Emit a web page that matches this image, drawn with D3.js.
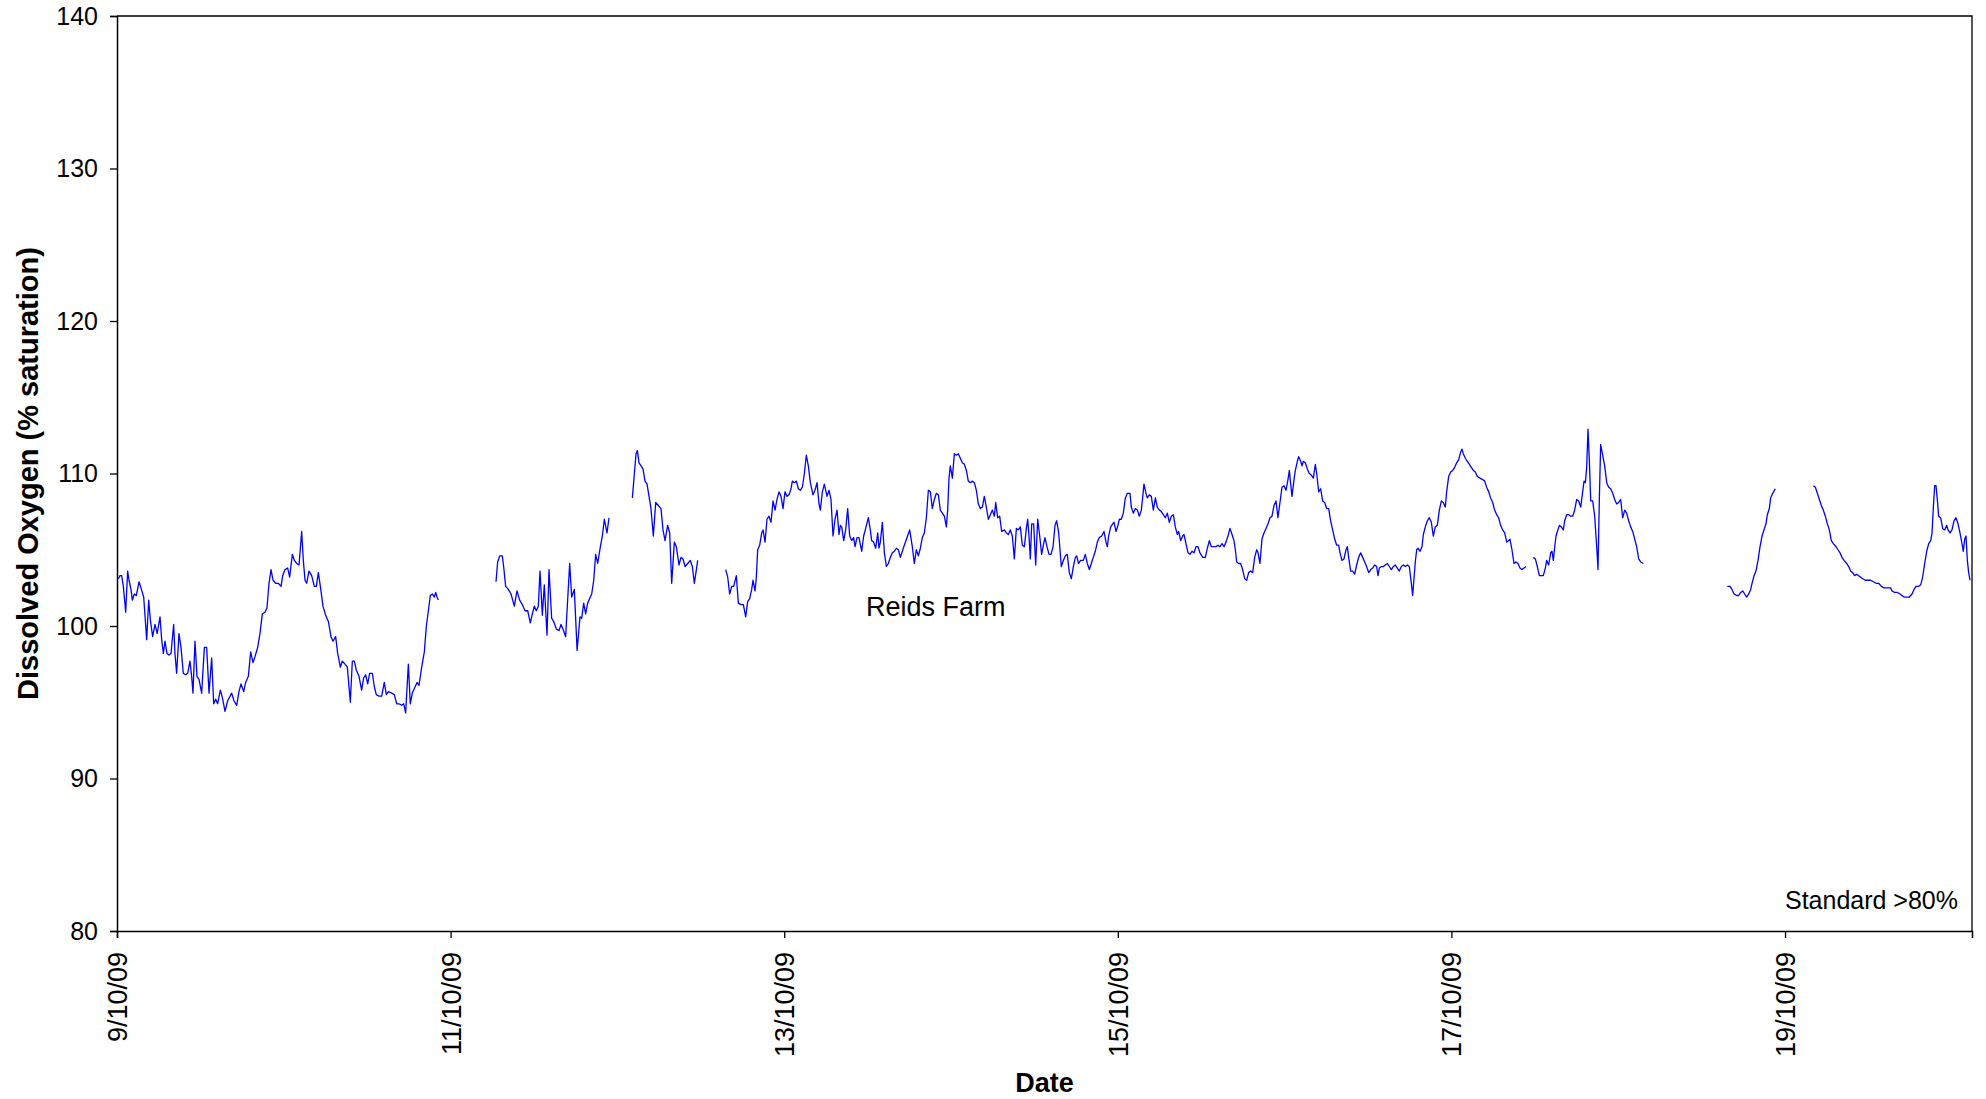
<!DOCTYPE html>
<html>
<head>
<meta charset="utf-8">
<script src="https://cdn.jsdelivr.net/npm/d3@7"></script>
<style>
  html, body { margin: 0; padding: 0; background: #fff; }
  svg { display: block; font-family: "Liberation Sans", Arial, sans-serif; }
</style>
</head>
<body>
<svg id="chart" width="1986" height="1099"></svg>
<script>
// ---- Data (hours after 9/10/09 00:00, % saturation) ----
const startDate = new Date(2009, 9, 9, 0, 0);
const endHours = 266.9;

const yTicks = [80, 90, 100, 110, 120, 130, 140];
const xTickDays = [0, 2, 4, 6, 8, 10];
const xTickLabels = ["9/10/09", "11/10/09", "13/10/09", "15/10/09", "17/10/09", "19/10/09"];

const segA = [[0.2,103.1],[0.43,103.3],[0.67,103.3],[0.91,102.6],[1.25,100.9],[1.53,103.6],[1.73,103.0],[2.01,102.4],[2.21,101.7],[2.49,102.1],[2.78,102.0],[3.17,102.9],[3.45,102.5],[3.84,101.9],[4.27,99.1],[4.56,101.7],[4.8,100.4],[5.13,99.3],[5.47,100.1],[5.78,99.5],[6.19,100.6],[6.43,99.1],[6.67,98.2],[6.91,99.0],[7.19,98.2],[7.48,98.1],[7.77,98.2],[8.15,100.1],[8.34,98.2],[8.58,96.9],[8.92,99.5],[9.21,98.6],[9.54,96.9],[9.88,96.8],[10.17,96.9],[10.5,97.7],[10.74,96.7],[10.93,95.6],[11.22,99.0],[11.51,96.7],[11.8,96.5],[12.18,95.6],[12.57,98.6],[12.9,98.6],[13.24,95.6],[13.62,97.9],[13.91,94.9],[14.2,95.2],[14.48,94.9],[14.87,95.8],[15.16,95.3],[15.54,94.4],[15.92,95.1],[16.5,95.6],[16.83,95.1],[17.22,94.8],[17.55,95.7],[17.84,96.2],[18.23,95.7],[18.51,96.3],[18.9,96.7],[19.23,98.3],[19.57,97.6],[19.86,98.0],[20.24,98.6],[20.57,99.5],[20.91,100.8],[21.29,100.9],[21.58,101.2],[21.87,102.8],[22.16,103.7],[22.45,103.0],[22.83,102.8],[23.21,102.8],[23.6,102.6],[23.84,103.3],[24.17,103.7],[24.56,103.8],[24.84,103.2],[25.23,104.7],[25.52,104.3],[25.85,104.1],[26.19,104.0],[26.57,106.2],[26.81,104.3],[27.05,103.0],[27.29,102.8],[27.62,103.6],[28.01,103.3],[28.39,102.6],[28.68,102.6],[28.97,103.5],[29.26,102.6],[29.64,101.3],[30.02,100.7],[30.41,100.3],[30.79,99.3],[31.08,99.0],[31.46,99.3],[31.75,98.2],[32.13,97.3],[32.42,97.7],[32.8,97.5],[33.14,97.3],[33.57,95.0],[33.86,97.7],[34.15,97.7],[34.44,97.1],[34.82,96.7],[35.2,95.8],[35.49,96.6],[35.78,96.8],[36.07,96.2],[36.35,96.9],[36.74,96.9],[37.03,96.0],[37.31,95.5],[37.7,95.4],[38.08,95.4],[38.46,96.3],[38.75,95.5],[39.04,95.7],[39.52,95.6],[39.9,95.5],[40.24,94.9],[40.57,94.9],[40.96,94.8],[41.25,94.9],[41.53,94.3],[41.92,97.5],[42.2,94.9],[42.49,95.6],[42.88,96.0],[43.17,96.3],[43.45,96.1],[43.84,97.3],[44.22,98.3],[44.51,100.0],[44.8,101.0],[45.08,102.0],[45.37,102.1],[45.66,101.9],[45.85,102.2],[46.04,101.9],[46.23,101.7]];

const segB = [[54.53,102.9],[54.77,104.2],[55.06,104.6],[55.44,104.6],[55.63,103.9],[55.92,102.6],[56.31,102.4],[56.69,102.1],[57.17,101.3],[57.55,102.3],[57.94,101.7],[58.32,101.4],[58.7,101.0],[59.09,101.0],[59.47,100.2],[59.76,100.8],[60.05,101.3],[60.33,101.0],[60.62,101.3],[60.86,103.6],[61.2,100.7],[61.48,102.7],[61.87,99.4],[62.16,103.7],[62.54,100.5],[62.83,100.3],[63.21,99.8],[63.6,99.7],[63.88,100.1],[64.17,99.8],[64.55,99.3],[64.84,101.7],[65.13,104.1],[65.42,101.9],[65.8,102.4],[66.2,98.4],[66.62,100.6],[66.86,100.5],[67.15,101.5],[67.43,100.8],[67.72,101.5],[68.01,101.8],[68.3,102.1],[68.59,103.0],[68.87,104.7],[69.16,104.1],[69.55,105.2],[69.83,105.9],[70.12,107.0],[70.5,106.1],[70.79,107.1]];

const segC = [[74.15,108.4],[74.44,110.0],[74.68,111.3],[74.87,111.5],[75.11,110.7],[75.4,110.5],[75.68,110.3],[75.97,109.5],[76.26,109.3],[76.55,108.5],[76.83,107.7],[77.17,105.9],[77.51,108.1],[77.89,107.9],[78.27,107.7],[78.56,106.3],[78.85,105.6],[79.23,106.6],[79.52,106.1],[79.81,102.8],[80.19,105.5],[80.48,105.2],[80.86,104.0],[81.15,104.5],[81.44,104.4],[81.73,103.9],[82.11,104.1],[82.49,104.3],[82.78,103.9],[83.07,102.8],[83.36,103.7],[83.55,104.3]];

const segD = [[87.58,103.7],[87.87,103.2],[88.15,102.1],[88.44,102.6],[88.73,102.6],[89.11,103.3],[89.4,101.5],[89.78,101.4],[90.12,101.4],[90.46,100.6],[90.74,101.6],[91.03,101.8],[91.32,102.4],[91.51,103.0],[91.8,102.3],[91.99,103.2],[92.18,105.0],[92.47,105.3],[92.76,106.1],[92.95,106.3],[93.24,105.5],[93.52,107.0],[93.81,107.2],[94.1,106.8],[94.39,108.2],[94.68,107.6],[94.96,108.3],[95.25,108.8],[95.54,108.5],[95.83,107.7],[96.11,108.8],[96.4,108.5],[96.69,108.6],[96.98,109.0],[97.17,109.5],[97.46,109.4],[97.75,109.5],[98.03,109.0],[98.32,108.9],[98.61,109.1],[98.9,110.0],[99.18,111.2],[99.47,110.5],[99.76,109.4],[100.14,108.6],[100.43,108.9],[100.72,109.4],[101.01,108.0],[101.2,107.6],[101.49,108.8],[101.77,109.3],[101.97,108.9],[102.16,108.5],[102.45,108.9],[102.73,108.3],[103.02,105.9],[103.31,107.0],[103.6,107.6],[103.88,106.0],[104.08,106.6],[104.27,106.5],[104.56,105.6],[104.84,106.3],[105.13,107.7],[105.42,105.9],[105.71,105.6],[105.99,105.8],[106.19,105.2],[106.47,105.8],[106.76,105.8],[107.15,104.9],[107.43,105.9],[107.72,106.4],[108.1,107.1],[108.39,106.3],[108.58,105.6],[108.87,105.5],[109.16,105.1],[109.45,106.1],[109.64,105.1],[109.83,105.5],[110.12,106.8],[110.41,104.8],[110.7,103.9],[110.98,104.1],[111.27,104.5],[111.56,104.8],[111.85,104.9],[112.13,105.1],[112.42,105.0],[112.71,104.5],[113.0,104.9],[113.28,105.3],[113.67,105.8],[114.05,106.3],[114.43,105.2],[114.72,104.1],[115.01,105.0],[115.3,104.6],[115.59,105.1],[115.87,105.8],[116.16,106.1],[116.45,107.1],[116.74,108.9],[117.03,108.8],[117.31,107.7],[117.6,108.3],[117.89,108.7],[118.18,108.6],[118.46,107.6],[118.75,107.4],[119.04,107.2],[119.33,106.5],[119.52,107.6],[119.71,109.7],[119.9,110.5],[120.19,109.7],[120.48,111.3],[120.77,111.2],[121.05,111.3],[121.34,111.0],[121.63,110.7],[121.92,110.6],[122.21,110.2],[122.49,109.5],[122.78,109.4],[123.07,109.5],[123.36,109.4],[123.64,108.9],[123.93,108.0],[124.22,107.7],[124.51,107.8],[124.79,108.5],[125.08,107.8],[125.37,107.0],[125.66,107.3],[125.95,107.6],[126.23,107.2],[126.43,108.1],[126.71,107.1],[127.0,107.2],[127.29,106.2],[127.67,106.3],[127.96,106.1],[128.25,106.0],[128.53,106.3],[128.82,105.9],[129.11,104.4],[129.4,106.4],[129.69,106.3],[129.97,106.5],[130.26,105.3],[130.55,105.2],[130.84,106.4],[131.03,107.0],[131.22,105.9],[131.41,104.4],[131.61,106.7],[131.89,106.7],[132.18,104.0],[132.47,107.0],[132.76,105.9],[133.04,104.7],[133.33,105.4],[133.52,105.8],[133.81,105.2],[134.1,104.7],[134.39,104.7],[134.68,105.2],[134.96,106.6],[135.2,106.9],[135.49,106.1],[135.87,103.9],[136.16,104.3],[136.45,104.6],[136.73,104.7],[137.02,103.5],[137.31,103.1],[137.6,103.9],[137.89,104.5],[138.08,104.6],[138.36,104.1],[138.65,104.3],[139.04,104.3],[139.32,104.7],[139.61,104.1],[139.9,103.7],[140.19,104.1],[140.47,104.5],[140.76,104.9],[141.05,105.5],[141.34,105.8],[141.67,105.9],[142.01,106.2],[142.3,105.5],[142.49,105.2],[142.68,105.9],[142.97,106.5],[143.26,106.7],[143.45,106.8],[143.74,106.2],[144.02,106.6],[144.22,107.0],[144.5,107.0],[144.79,107.4],[145.08,108.4],[145.37,108.7],[145.75,108.7],[145.94,107.8],[146.23,107.4],[146.52,107.7],[146.81,107.6],[147.09,107.2],[147.38,107.6],[147.57,108.4],[147.76,109.3],[148.05,108.7],[148.24,108.4],[148.53,108.6],[148.82,108.5],[149.11,107.6],[149.4,108.4],[149.68,107.8],[149.97,107.6],[150.26,107.5],[150.55,107.3],[150.83,107.1],[151.12,107.4],[151.41,106.8],[151.7,107.2],[151.99,107.3],[152.27,106.5],[152.56,106.0],[152.75,106.2],[153.04,105.6],[153.33,105.9],[153.52,106.0],[153.81,105.4],[154.1,104.8],[154.38,104.7],[154.67,104.9],[154.96,104.8],[155.25,105.2],[155.53,105.2],[155.82,104.8],[156.21,104.5],[156.59,104.5],[156.88,105.1],[157.17,105.6],[157.45,105.2],[157.74,105.2],[158.12,105.2],[158.41,105.3],[158.7,105.2],[158.99,105.4],[159.28,105.2],[159.56,105.5],[159.85,105.9],[160.14,106.4],[160.43,106.0],[160.71,105.6],[160.91,105.0],[161.1,104.2],[161.39,104.1],[161.67,104.1],[161.96,103.7],[162.25,103.1],[162.54,103.0],[162.82,103.5],[163.11,103.6],[163.4,103.5],[163.69,104.5],[163.98,105.0],[164.17,104.8],[164.45,104.1],[164.74,105.7],[165.03,106.1],[165.32,106.4],[165.61,106.7],[165.89,107.1],[166.18,107.2],[166.47,107.9],[166.76,108.2],[167.04,107.1],[167.33,108.1],[167.62,109.1],[167.91,109.2],[168.2,108.9],[168.48,109.6],[168.68,110.2],[168.87,109.3],[169.06,108.5],[169.35,109.6],[169.54,110.2],[169.83,110.8],[170.02,111.1],[170.31,110.8],[170.5,110.5],[170.69,110.8],[170.98,110.7],[171.27,110.3],[171.55,110.0],[171.84,109.9],[172.13,109.7],[172.42,110.6],[172.61,110.0],[172.9,108.8],[173.18,109.0],[173.47,108.2],[173.76,108.1],[174.05,107.7],[174.34,107.7],[174.62,106.9],[174.91,106.3],[175.2,105.7],[175.49,105.3],[175.77,105.3],[175.97,104.8],[176.25,104.3],[176.54,104.4],[176.83,105.0],[177.02,105.2],[177.21,104.5],[177.5,103.6],[177.79,103.6],[178.08,103.4],[178.36,104.0],[178.65,104.5],[178.94,104.8],[179.23,104.5],[179.52,104.2],[179.8,103.9],[180.09,103.5],[180.38,103.7],[180.67,103.8],[180.95,104.0],[181.24,103.9],[181.43,103.3],[181.63,103.8],[181.91,103.9],[182.2,103.9],[182.49,104.0],[182.78,104.1],[183.06,103.9],[183.35,103.7],[183.64,103.9],[183.93,104.0],[184.21,103.8],[184.5,103.6],[184.79,103.9],[185.08,104.0],[185.37,103.9],[185.65,104.0],[185.94,103.9],[186.23,102.8],[186.42,102.0],[186.61,103.1],[186.8,104.2],[187.0,105.0],[187.19,105.1],[187.48,104.9],[187.76,105.2],[187.96,106.0],[188.24,106.5],[188.53,106.9],[188.82,107.1],[189.11,106.8],[189.39,105.9],[189.68,106.5],[189.97,106.6],[190.26,107.6],[190.55,108.2],[190.83,108.1],[191.12,107.8],[191.31,108.8],[191.6,109.8],[191.89,110.1],[192.18,110.2],[192.46,110.4],[192.75,110.7],[193.04,110.9],[193.33,111.4],[193.52,111.6],[193.71,111.3],[194.0,111.0],[194.29,110.8],[194.58,110.6],[194.86,110.4],[195.15,110.2],[195.44,110.1],[195.73,109.8],[196.11,109.7],[196.49,109.6],[196.78,109.5],[197.07,109.1],[197.36,108.8],[197.64,108.4],[197.93,108.1],[198.22,107.6],[198.51,107.3],[198.79,107.1],[199.08,106.6],[199.37,106.3],[199.66,106.1],[199.95,105.5],[200.23,105.6],[200.42,105.7],[200.71,105.0],[201.0,104.1],[201.29,104.2],[201.57,104.1],[201.86,103.8],[202.15,103.7],[202.44,103.8],[202.73,103.9]];

const segE = [[203.79,104.5],[204.07,104.4],[204.36,103.9],[204.65,103.3],[204.94,103.3],[205.22,103.3],[205.51,103.8],[205.7,104.3],[205.99,104.0],[206.28,104.8],[206.47,104.9],[206.66,104.3],[206.86,105.2],[207.05,105.9],[207.24,106.2],[207.53,106.6],[207.81,106.5],[208.1,106.3],[208.29,106.9],[208.58,107.3],[208.87,107.3],[209.16,107.2],[209.44,107.2],[209.73,107.6],[210.02,108.3],[210.31,108.2],[210.6,107.8],[210.88,108.8],[211.08,109.5],[211.27,109.4],[211.46,110.4],[211.65,112.9],[211.84,110.9],[212.04,108.2],[212.32,108.2],[212.61,107.2],[212.9,105.2],[213.09,103.7],[213.28,108.3],[213.47,111.9],[213.76,111.2],[214.05,110.5],[214.34,109.4],[214.62,109.1],[214.91,109.0],[215.2,108.7],[215.49,108.3],[215.78,108.0],[216.06,108.1],[216.35,108.3],[216.64,107.1],[216.93,107.6],[217.21,107.4],[217.5,106.9],[217.79,106.5],[218.08,106.2],[218.37,105.7],[218.65,105.2],[218.94,104.4],[219.23,104.2],[219.61,104.1]];

const segF = [[231.7,102.6],[232.08,102.6],[232.37,102.4],[232.66,102.1],[233.04,102.0],[233.33,102.0],[233.62,102.2],[233.91,102.3],[234.19,102.1],[234.48,101.9],[234.77,102.1],[235.06,102.4],[235.25,102.8],[235.54,103.3],[235.82,103.6],[236.11,104.3],[236.4,105.2],[236.69,105.9],[236.97,106.3],[237.26,106.7],[237.45,107.3],[237.74,107.7],[237.93,108.4],[238.22,108.7],[238.6,109.0]];

const segG = [[244.07,109.2],[244.36,109.1],[244.65,108.7],[244.94,108.3],[245.22,107.9],[245.51,107.6],[245.8,107.2],[246.09,106.7],[246.37,106.3],[246.66,105.6],[246.95,105.4],[247.33,105.2],[247.62,105.0],[247.91,104.8],[248.2,104.5],[248.48,104.3],[248.87,104.1],[249.16,103.9],[249.44,103.6],[249.73,103.5],[250.02,103.3],[250.31,103.4],[250.6,103.3],[250.88,103.2],[251.17,103.1],[251.55,103.0],[251.94,103.0],[252.32,103.0],[252.71,102.9],[253.09,102.8],[253.47,102.8],[253.86,102.6],[254.24,102.5],[254.62,102.5],[255.01,102.5],[255.2,102.5],[255.39,102.3],[255.77,102.2],[256.16,102.2],[256.54,102.1],[256.83,102.0],[257.12,101.9],[257.5,101.9],[257.88,101.9],[258.27,102.1],[258.56,102.4],[258.84,102.6],[259.23,102.6],[259.52,102.7],[259.8,103.2],[260.09,104.1],[260.38,104.9],[260.67,105.4],[260.96,105.6],[261.15,106.1],[261.34,107.8],[261.53,109.2],[261.72,109.2],[261.91,108.3],[262.1,107.2],[262.39,107.1],[262.68,106.4],[262.97,106.3],[263.26,106.6],[263.45,106.3],[263.74,106.1],[264.02,106.3],[264.31,106.9],[264.6,107.1],[264.89,106.7],[265.17,106.1],[265.46,105.4],[265.65,104.9],[265.85,105.7],[266.04,105.9],[266.23,104.3],[266.42,103.5],[266.61,103.0]];

const segments = [segA, segB, segC, segD, segE, segF, segG];

const seriesLabel = "Reids Farm";
const standardLabel = "Standard >80%";
const xTitle = "Date";
const yTitle = "Dissolved Oxygen (% saturation)";

// ---- Layout ----
const W = 1986, H = 1099;
const margin = { top: 16, right: 14, bottom: 168, left: 117 };
const pw = W - margin.left - margin.right;
const ph = H - margin.top - margin.bottom;

const hourMs = 3600 * 1000;
const toDate = h => new Date(startDate.getTime() + h * hourMs);

const svg = d3.select("#chart");
svg.append("rect").attr("width", W).attr("height", H).attr("fill", "#fff");

const g = svg.append("g").attr("transform", `translate(${margin.left},${margin.top})`);

const x = d3.scaleTime().domain([startDate, toDate(endHours)]).range([0, pw]);
const y = d3.scaleLinear().domain([80, 140]).range([ph, 0]);

// frame (top & right)
g.append("path")
  .attr("d", `M0,0H${pw}V${ph}`)
  .attr("fill", "none").attr("stroke", "#000").attr("stroke-width", 1.3);

// Y axis
const yAxis = g.append("g")
  .call(d3.axisLeft(y).tickValues(yTicks).tickSize(7).tickPadding(12).tickFormat(d3.format("d")));
yAxis.select(".domain").attr("stroke", "#000").attr("stroke-width", 1.5);
yAxis.selectAll(".tick line").attr("stroke", "#000").attr("stroke-width", 1.3);
yAxis.selectAll(".tick text")
  .attr("font-size", 25).attr("font-family", "Liberation Sans, Arial, sans-serif").attr("fill", "#000");

// X axis
const xTickDates = xTickDays.map(d => toDate(d * 24));
const xAxis = g.append("g").attr("transform", `translate(0,${ph})`)
  .call(d3.axisBottom(x).tickValues(xTickDates).tickSize(7)
    .tickFormat((d, i) => xTickLabels[i]));
xAxis.select(".domain").attr("stroke", "#000").attr("stroke-width", 1.5);
xAxis.selectAll(".tick line").attr("stroke", "#000").attr("stroke-width", 1.3);
xAxis.selectAll(".tick text")
  .attr("font-size", 27).attr("font-family", "Liberation Sans, Arial, sans-serif").attr("fill", "#000")
  .attr("transform", "rotate(-90)")
  .attr("text-anchor", "end")
  .attr("x", -21).attr("y", 0).attr("dy", "0.35em");

// Lines
const line = d3.line()
  .x(d => x(toDate(d[0])))
  .y(d => y(d[1]));

g.append("g").selectAll("path.seg")
  .data(segments)
  .join("path")
  .attr("class", "seg")
  .attr("d", line)
  .attr("fill", "none")
  .attr("stroke", "#0000ff")
  .attr("stroke-width", 1.3)
  .attr("stroke-linejoin", "round");

// Annotations
svg.append("text")
  .attr("x", 866).attr("y", 616)
  .attr("font-size", 27).attr("fill", "#000")
  .text(seriesLabel);

svg.append("text")
  .attr("x", 1958).attr("y", 909)
  .attr("text-anchor", "end")
  .attr("font-size", 25).attr("fill", "#000")
  .text(standardLabel);

// Axis titles
svg.append("text")
  .attr("x", margin.left + pw / 2).attr("y", 1092)
  .attr("text-anchor", "middle")
  .attr("font-size", 27).attr("font-weight", "bold").attr("fill", "#000")
  .text(xTitle);

svg.append("text")
  .attr("transform", `translate(38,${margin.top + ph / 2}) rotate(-90)`)
  .attr("text-anchor", "middle")
  .attr("font-size", 29).attr("font-weight", "bold").attr("fill", "#000")
  .text(yTitle);
</script>
</body>
</html>
